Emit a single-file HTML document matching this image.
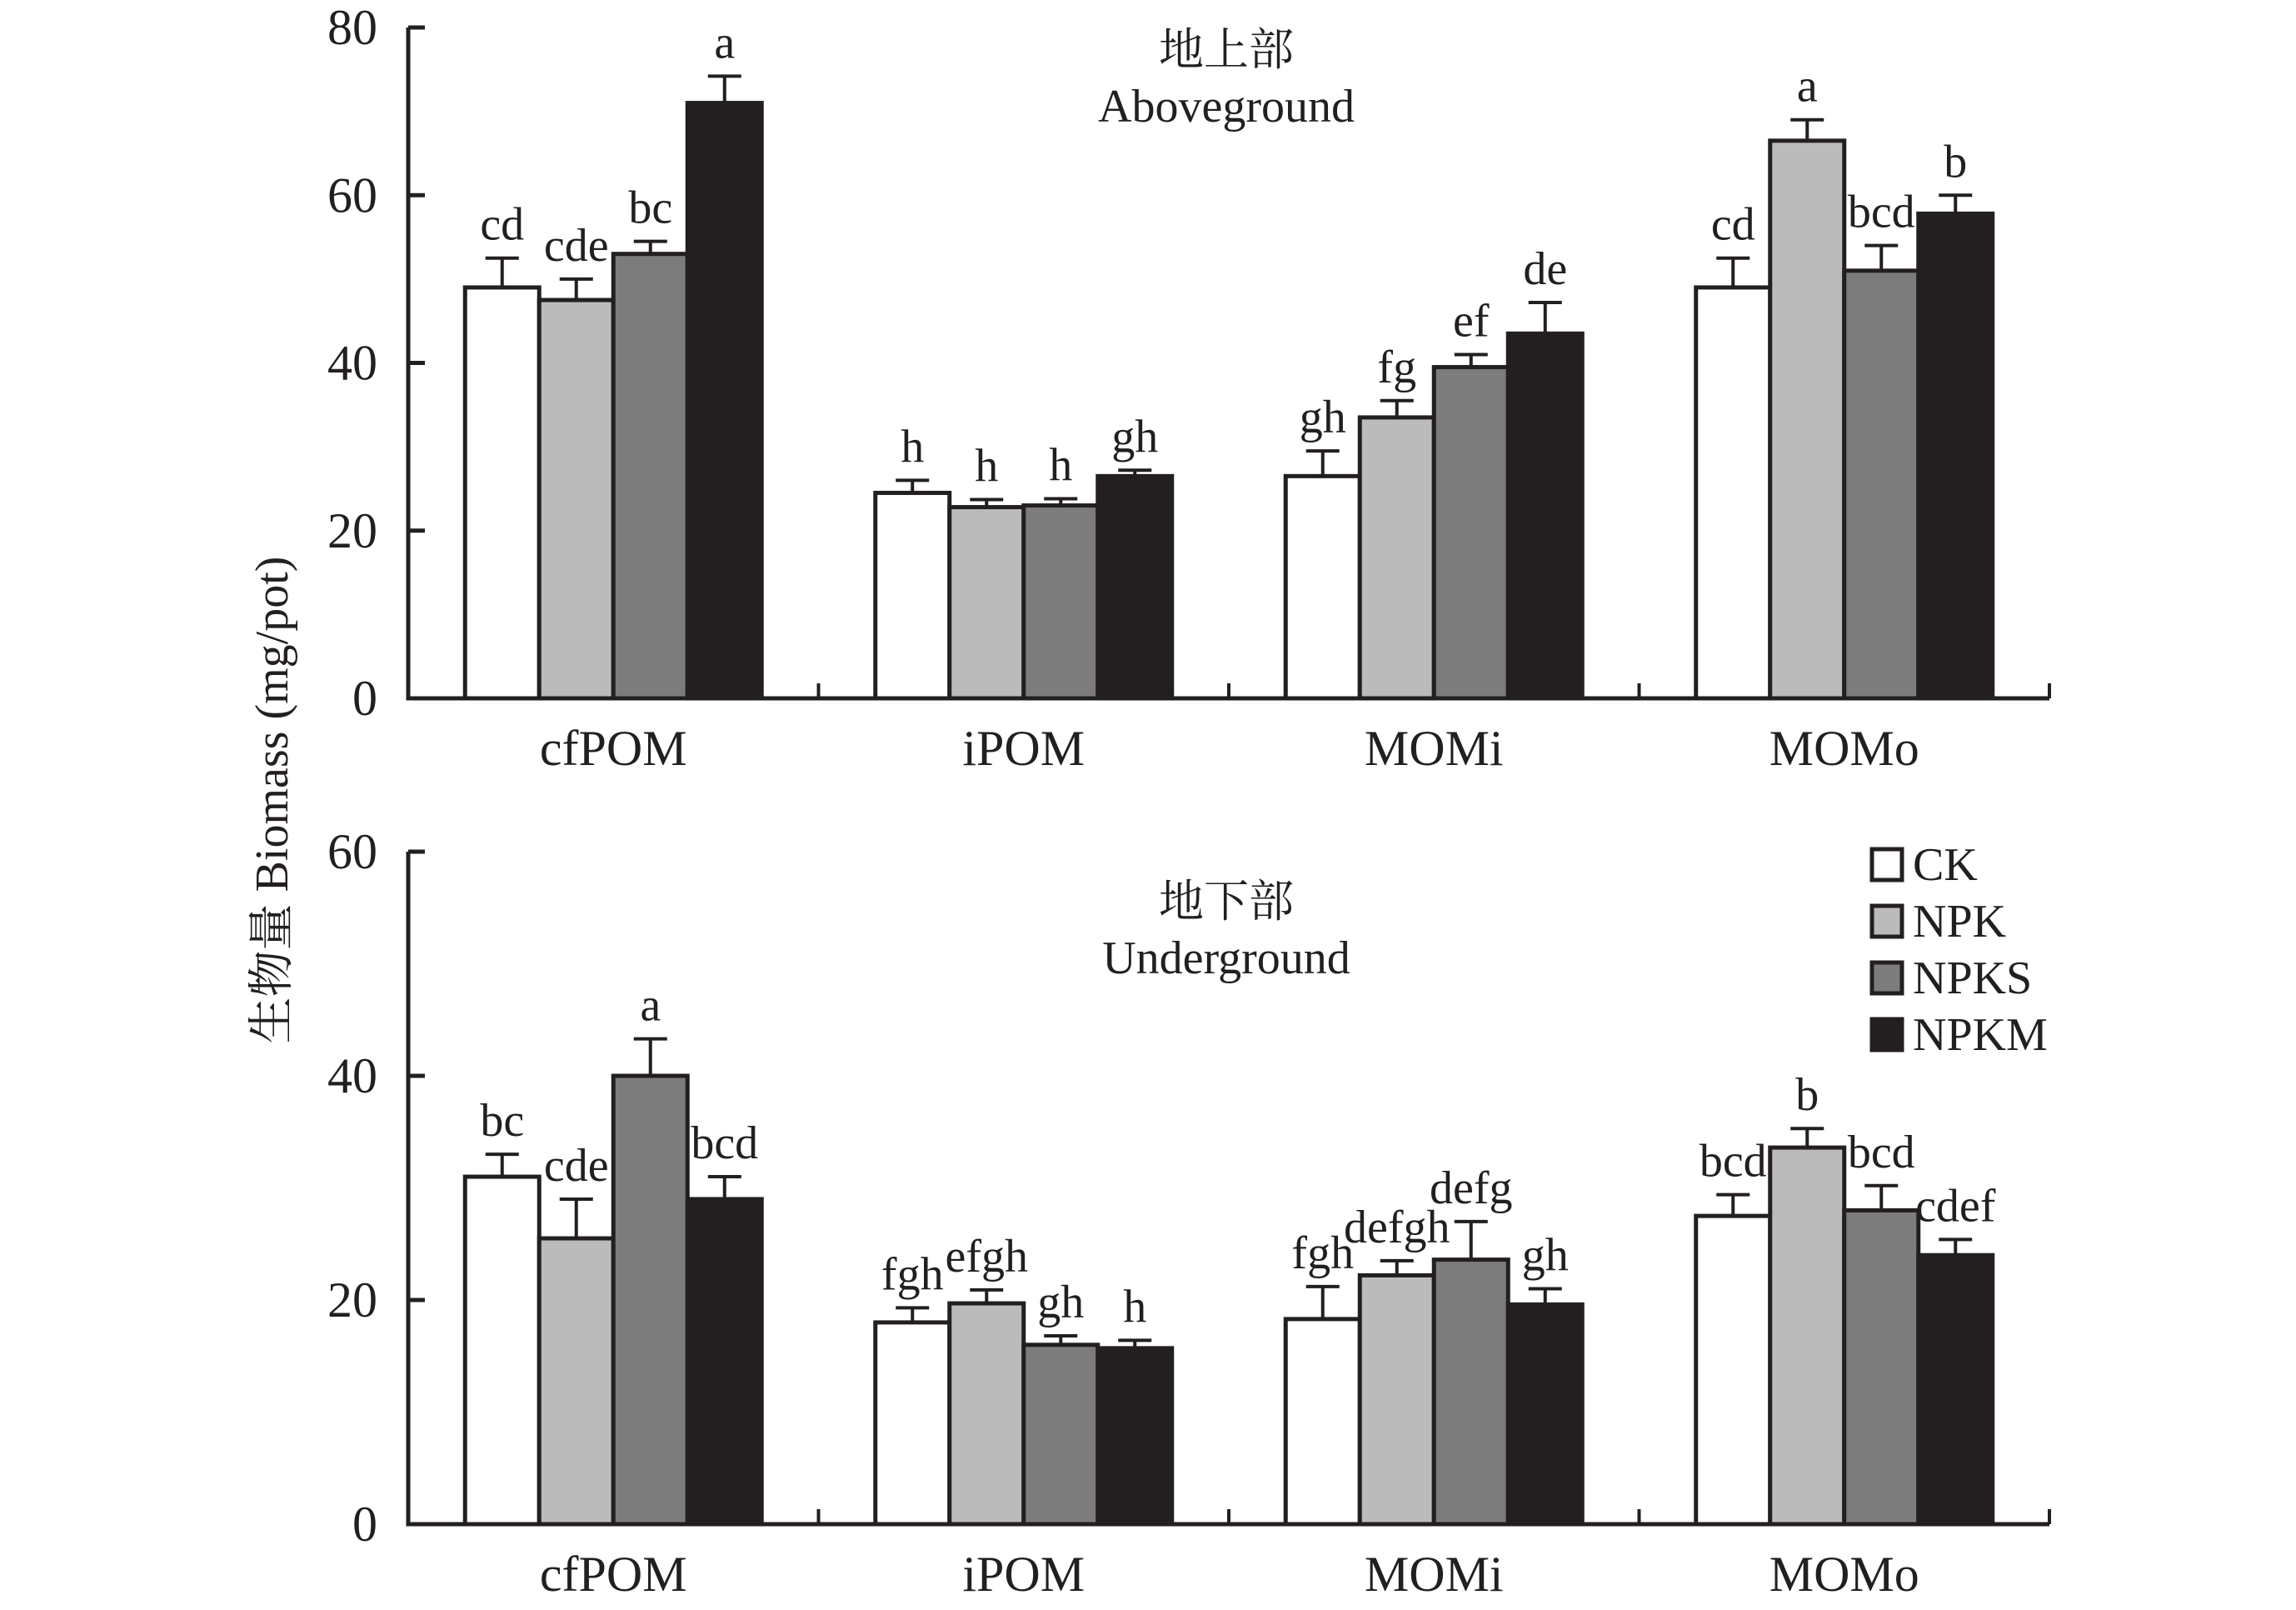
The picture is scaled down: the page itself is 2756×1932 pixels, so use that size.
<!DOCTYPE html>
<html><head><meta charset="utf-8"><style>
html,body{margin:0;padding:0;background:#fff}
svg text{font-family:"Liberation Serif","Noto Serif CJK SC","Noto Sans CJK SC",serif;fill:#231f20}
</style></head><body>
<svg id="chart" width="2756" height="1927" viewBox="0 0 2756 1927" xmlns="http://www.w3.org/2000/svg">
<text x="0" y="0" font-size="56" text-anchor="middle" transform="translate(345,960) rotate(-90)">生物量 Biomass (mg/pot)</text>
<g id="legend"></g>
</svg>
<script>
const categories = ["cfPOM","iPOM","MOMi","MOMo"];
const series = ["CK","NPK","NPKS","NPKM"];
const colors = ["#ffffff","#bbbbbb","#7d7c7d","#231f20"];
// aboveground
const aboveCK   = [49, 24.5, 26.5, 49];
const aboveNPK  = [47.5, 22.8, 33.5, 66.5];
const aboveNPKS = [53, 23, 39.5, 51];
const aboveNPKM = [71, 26.5, 43.5, 57.8];
const aboveErrCK   = [3.5, 1.5, 3, 3.5];
const aboveErrNPK  = [2.5, 0.9, 2, 2.5];
const aboveErrNPKS = [1.5, 0.8, 1.5, 3];
const aboveErrNPKM = [3.2, 0.7, 3.7, 2.2];
const aboveLetters = [["cd","cde","bc","a"],["h","h","h","gh"],["gh","fg","ef","de"],["cd","a","bcd","b"]];
const aboveTicks = [0,20,40,60,80];
// underground
const belowCK   = [31, 18, 18.3, 27.5];
const belowNPK  = [25.5, 19.7, 22.2, 33.6];
const belowNPKS = [40, 16, 23.6, 28];
const belowNPKM = [29, 15.7, 19.6, 24];
const belowErrCK   = [2, 1.3, 2.9, 1.9];
const belowErrNPK  = [3.5, 1.2, 1.3, 1.7];
const belowErrNPKS = [3.3, 0.8, 3.4, 2.2];
const belowErrNPKM = [2, 0.7, 1.4, 1.4];
const belowLetters = [["bc","cde","a","bcd"],["fgh","efgh","gh","h"],["fgh","defgh","defg","gh"],["bcd","b","bcd","cdef"]];
const belowTicks = [0,20,40,60];

const NS = "http://www.w3.org/2000/svg";
const svg = document.getElementById("chart");
function mk(tag, attrs, parent){
  const e = document.createElementNS(NS, tag);
  for (const k in attrs) e.setAttribute(k, attrs[k]);
  (parent||svg).appendChild(e);
  return e;
}
const X0 = 490, X1 = 2460;
const catW = (X1 - X0) / categories.length;
const barW = 89;

function panel(opts){
  const g = mk("g", {});
  
  
  const y = v => opts.y0 - (v / opts.max) * (opts.y0 - opts.yTop);
  const vals = [opts.ck, opts.npk, opts.npks, opts.npkm];
  const errs = [opts.eck, opts.enpk, opts.enpks, opts.enpkm];
  categories.forEach((c, ci) => {
    const cx = X0 + catW * (ci + 0.5);
    series.forEach((s, si) => {
      const v = vals[si][ci], e = errs[si][ci];
      const bx = cx - 2 * barW + si * barW;
      const r = mk("rect", {x: bx, y: y(v), width: barW, height: opts.y0 - y(v), fill: colors[si], stroke: "#231f20", "stroke-width": 5}, g);
      
      
      const mid = bx + barW / 2;
      const eb = mk("path", {d: `M${mid},${y(v)}V${y(v+e)}M${mid-20},${y(v+e)}H${mid+20}`, stroke: "#231f20", "stroke-width": 4, fill: "none"}, g);
      
      
      const t = mk("text", {x: mid, y: y(v+e) - 22, "font-size": 56, "text-anchor": "middle"}, g);
      t.textContent = opts.letters[ci][si];
      
      
    });
    const cl = mk("text", {x: cx, y: opts.y0 + 80, "font-size": 60, "text-anchor": "middle"}, g);
    cl.textContent = c;
    
    
  });
  const ax = mk("path", {d: `M${X0},${opts.yTop}V${opts.y0}H${X1}`, stroke: "#231f20", "stroke-width": 5, fill: "none"}, g);
  
  
  for (let i = 1; i <= categories.length; i++) {
    const tx = X0 + catW * i;
    const tk = mk("path", {d: `M${tx},${opts.y0}V${opts.y0-18}`, stroke: "#231f20", "stroke-width": 4}, g);
    
    
  }
  opts.ticks.forEach(tv => {
    const tk = mk("path", {d: `M${X0},${y(tv)}H${X0+20}`, stroke: "#231f20", "stroke-width": 5}, g);
    
    
    const tl = mk("text", {x: 453, y: y(tv) + 20, "font-size": 60, "text-anchor": "end"}, g);
    tl.textContent = tv;
    
    
  });
  const t1 = mk("text", {x: 1472, y: opts.titleY, "font-size": 54, "text-anchor": "middle"}, g);
  t1.textContent = opts.title1;
  
  
  const t2 = mk("text", {x: 1472, y: opts.titleY + 68, "font-size": 56, "text-anchor": "middle"}, g);
  t2.textContent = opts.title2;
  
  
}
panel({name:"aboveground-panel", y0:838, yTop:33, max:80, ticks:aboveTicks,
  ck:aboveCK, npk:aboveNPK, npks:aboveNPKS, npkm:aboveNPKM,
  eck:aboveErrCK, enpk:aboveErrNPK, enpks:aboveErrNPKS, enpkm:aboveErrNPKM,
  letters:aboveLetters, title1:"地上部", title2:"Aboveground", titleY:78});
panel({name:"underground-panel", y0:1829, yTop:1022, max:60, ticks:belowTicks,
  ck:belowCK, npk:belowNPK, npks:belowNPKS, npkm:belowNPKM,
  eck:belowErrCK, enpk:belowErrNPK, enpks:belowErrNPKS, enpkm:belowErrNPKM,
  letters:belowLetters, title1:"地下部", title2:"Underground", titleY:1100});
const lg = document.getElementById("legend");
series.forEach((s, i) => {
  const yy = 1019 + i * 68;
  const r = mk("rect", {x: 2247, y: yy, width: 36, height: 37, fill: colors[i], stroke: "#231f20", "stroke-width": 5}, lg);
  
  
  const t = mk("text", {x: 2296, y: yy + 37, "font-size": 56}, lg);
  t.textContent = s;
  
  
});
</script>
</body></html>
